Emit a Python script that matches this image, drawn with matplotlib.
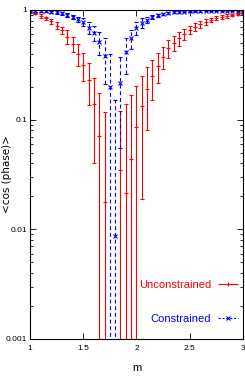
import numpy as np
import matplotlib
matplotlib.use("Agg")
import matplotlib.pyplot as plt
from matplotlib.legend_handler import HandlerErrorbar

# m grid
m = [1.00, 1.05, 1.10, 1.15, 1.20, 1.25, 1.30, 1.35, 1.40, 1.45,
     1.50, 1.55, 1.60, 1.65, 1.70, 1.75, 1.80, 1.85, 1.90, 1.95,
     2.00, 2.05, 2.10, 2.15, 2.20, 2.25, 2.30, 2.35, 2.40, 2.45,
     2.50, 2.55, 2.60, 2.65, 2.70, 2.75, 2.80, 2.85, 2.90, 2.95, 3.00]

# <cos(phase)>, unconstrained fit
unc = [0.965, 0.93, 0.88, 0.84, 0.79, 0.72, 0.65, 0.57, 0.49, 0.40,
       0.315, 0.23, 0.14, 0.071, 0.0177, -0.02, -0.01, 0.035, 0.0216, 0.044,
       0.085, 0.134, 0.19, 0.25, 0.31, 0.375, 0.45, 0.50, 0.55, 0.60,
       0.66, 0.70, 0.74, 0.78, 0.81, 0.84, 0.86, 0.88, 0.90, 0.92, 0.93]
unc_err = [0.02, 0.02, 0.03, 0.03, 0.04, 0.05, 0.05, 0.08, 0.08, 0.09,
           0.09, 0.095, 0.10, 0.105, 0.10, 0.10, 0.10, 0.085, 0.117, 0.124,
           0.118, 0.115, 0.11, 0.10, 0.095, 0.085, 0.085, 0.08, 0.08, 0.07,
           0.06, 0.055, 0.05, 0.045, 0.04, 0.035, 0.03, 0.03, 0.025, 0.02, 0.02]

# <cos(phase)>, constrained fit
con = [0.985, 0.98, 0.975, 0.97, 0.96, 0.95, 0.93, 0.90, 0.86, 0.82,
       0.78, 0.69, 0.62, 0.51, 0.38, 0.20, 0.0087, 0.215, 0.41, 0.55,
       0.68, 0.76, 0.81, 0.86, 0.89, 0.92, 0.935, 0.95, 0.96, 0.965,
       0.97, 0.975, 0.978, 0.98, 0.982, 0.984, 0.985, 0.986, 0.987, 0.988, 0.988]
con_err = [0.015, 0.015, 0.02, 0.02, 0.02, 0.025, 0.03, 0.03, 0.04, 0.05,
           0.06, 0.09, 0.10, 0.12, 0.17, 0.20, 0.142, 0.16, 0.15, 0.11,
           0.09, 0.08, 0.05, 0.04, 0.03, 0.025, 0.02, 0.02, 0.015, 0.015,
           0.015, 0.012, 0.012, 0.012, 0.01, 0.01, 0.01, 0.01, 0.01, 0.01, 0.01]

RED = "#ff0000"
BLUE = "#0000ff"
FONT = ["Liberation Sans", "DejaVu Sans"]
DASH = (0, (3.5, 2.5))


def positive(x, y, e):
    # gnuplot drops points whose value is not positive on a log axis
    x, y, e = np.array(x), np.array(y), np.array(e)
    keep = y > 0
    return x[keep], y[keep], e[keep]


fig = plt.figure(figsize=(2.45, 3.82), dpi=100)
ax = fig.add_axes([0.1224, 0.1126, 0.869, 0.8614])

style_u = dict(fmt="+", color=RED, ms=3, mew=0.8, elinewidth=0.8, capsize=1.2, capthick=0.8)
style_c = dict(fmt="x", color=BLUE, ms=2.5, mew=0.8, elinewidth=0.8, capsize=1.2, capthick=0.8)

x, y, e = positive(m, unc, unc_err)
ax.errorbar(x, y, yerr=e, **style_u)

x, y, e = positive(m, con, con_err)
eb = ax.errorbar(x, y, yerr=e, **style_c)
eb[2][0].set_linestyle(DASH)

# key samples: gnuplot draws them as horizontal bars with end ticks
key_u = ax.errorbar([], [], xerr=[], **style_u)
key_c = ax.errorbar([], [], xerr=[], **style_c)
key_c[2][0].set_linestyle((0, (2, 1.5)))

ax.set_yscale("log")
ax.set_xlim(1, 3)
ax.set_ylim(0.001, 1)
ax.set_xticks([1, 1.5, 2, 2.5, 3])
ax.set_xticklabels(["1", "1.5", "2", "2.5", "3"])
ax.set_yticks([0.001, 0.01, 0.1, 1])
ax.set_yticklabels(["0.001", "0.01", "0.1", "1"])
ax.tick_params(which="both", direction="in", top=True, right=True,
               labelsize=6, width=0.6)
ax.tick_params(axis="y", pad=2)
ax.tick_params(axis="x", pad=4)
ax.tick_params(which="major", length=4)
ax.tick_params(which="minor", length=2)
for lab in ax.get_xticklabels() + ax.get_yticklabels():
    lab.set_family(FONT)
for s in ax.spines.values():
    s.set_linewidth(0.8)

ax.set_xlabel("m", family=FONT, fontsize=8, labelpad=8)
ax.set_ylabel("<cos (phase)>", family="DejaVu Sans", fontsize=7.5, va="center")
ax.yaxis.set_label_coords(-0.108, 0.5)

leg = ax.legend([key_u, key_c], ["Unconstrained", "Constrained"],
                handler_map={type(key_u): HandlerErrorbar(xerr_size=0.9)},
                loc="lower right", bbox_to_anchor=(0.975, 0.045),
                frameon=False, markerfirst=False, borderaxespad=0, borderpad=0,
                handlelength=1.8, handletextpad=0.6, labelspacing=2.2,
                prop={"family": FONT, "size": 8})
for t, c in zip(leg.get_texts(), [RED, BLUE]):
    t.set_color(c)

fig.savefig("out.png", dpi=100)
